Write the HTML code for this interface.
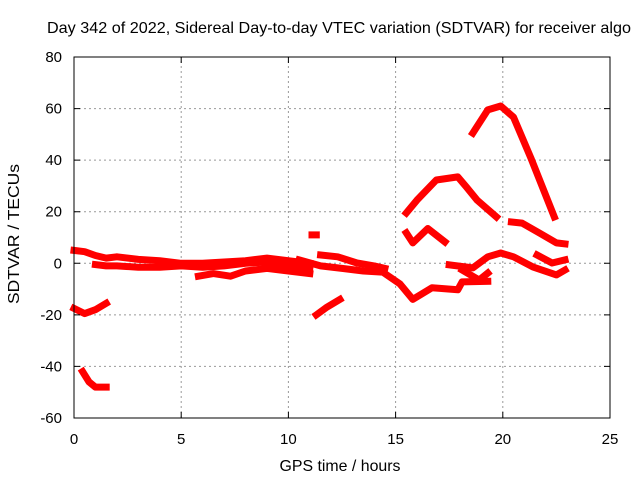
<!DOCTYPE html>
<html><head><meta charset="utf-8"><style>
html,body{margin:0;padding:0;background:#fff}
svg{display:block;font-family:"Liberation Sans",sans-serif}
</style></head><body>
<svg id="chart" width="640" height="480">
<text x="339" y="33" font-size="16" text-anchor="middle" textLength="584" lengthAdjust="spacingAndGlyphs">Day 342 of 2022, Sidereal Day-to-day VTEC variation (SDTVAR) for receiver algo</text>
<text x="340" y="471" font-size="16" text-anchor="middle" textLength="121" lengthAdjust="spacingAndGlyphs">GPS time / hours</text>
<text transform="translate(19,234) rotate(-90)" font-size="16" text-anchor="middle" textLength="140" lengthAdjust="spacingAndGlyphs">SDTVAR / TECUs</text>
<g id="grid"></g>
<g id="series"></g>
<rect x="74" y="57" width="536" height="361" fill="none" stroke="#000" stroke-width="1"/>
<g id="ticks"></g>
</svg>
<script>
const xTicks = [0,5,10,15,20,25];
const yTicks = [-60,-40,-20,0,20,40,60,80];
const segX = [
 [0,0.5,1,1.5,2,3,4,5,6,7,8,9,10,11],
 [1,1.5,2,3,4,5,6,7,8,9,10,11],
 [5.8,6.5,7.3,8,9,10,11],
 [10.5,11.5,12.5,13.5,14.4,15.2,15.8,16.7,17.9,18.1,19.3],
 [11.5,12.3,13.2,14,14.5],
 [0,0.5,1,1.5],
 [0.4,0.7,1,1.5],
 [11.3,11.8,12.4],
 [11.1,11.3],
 [18.6,19.3,19.9,20.5,21.3,22.4],
 [15.5,16,16.9,17.9,18.3,18.8,19.7],
 [15.5,15.8,16.5,17.3],
 [20.4,20.9,21.7,22.5,22.9],
 [21.6,22.3,22.9],
 [17.5,18.6,19.3,19.9,20.5,21.4,22.5,22.9],
 [18.1,18.9,19.3]
];
const segY = [
 [5,4.5,3,2,2.5,1.5,1,0,0,0.5,1,2,1,0],
 [-0.5,-1,-1,-1.5,-1.5,-1,-1.5,-1,0,0.5,-1,-2],
 [-5,-4,-5,-3,-2,-3,-4],
 [1.3,-1,-2,-3,-3.4,-8,-14,-9.5,-10.3,-7.2,-7],
 [3.2,2.5,0.1,-1,-2],
 [-17.5,-19.5,-18,-15.5],
 [-42,-46,-48,-48],
 [-20,-17,-14],
 [11,11],
 [50.5,59.5,61,56.7,41,18],
 [19.5,24.5,32.3,33.5,29.6,24.5,18],
 [11.8,7.9,13.5,8.3],
 [16,15.6,11.8,7.9,7.5],
 [3.2,0.1,1.3],
 [-0.6,-1.8,2.5,4,2.5,-1.4,-4.5,-2.6],
 [-2.6,-6.5,-3.8]
];
const NS='http://www.w3.org/2000/svg';
const X0=74,X1=610,Y0=418,Y1=57,xmin=0,xmax=25,ymin=-60,ymax=80;
const sx=v=>X0+(v-xmin)/(xmax-xmin)*(X1-X0);
const sy=v=>Y0-(v-ymin)/(ymax-ymin)*(Y0-Y1);
const grid=document.getElementById('grid'),ticks=document.getElementById('ticks'),series=document.getElementById('series'),svg=document.getElementById('chart');
function mk(t,a){const e=document.createElementNS(NS,t);for(const k in a)e.setAttribute(k,a[k]);return e;}
xTicks.forEach(v=>{
 const x=sx(v);
 if(v>xmin&&v<xmax){const g=mk('line',{x1:x,x2:x,y1:Y0,y2:Y1,stroke:'#999','stroke-dasharray':'2,3'});grid.appendChild(g);}
 const t=mk('path',{d:`M${x},${Y0}v-6M${x},${Y1}v6`,stroke:'#000'});ticks.appendChild(t);
 const l=mk('text',{x:x,y:Y0+26,'font-size':15,'text-anchor':'middle'});l.textContent=v;svg.appendChild(l);
});
yTicks.forEach(v=>{
 const y=sy(v);
 if(v>ymin&&v<ymax){const g=mk('line',{x1:X0,x2:X1,y1:y,y2:y,stroke:'#999','stroke-dasharray':'2,3'});grid.appendChild(g);}
 const t=mk('path',{d:`M${X0},${y}h6M${X1},${y}h-6`,stroke:'#000'});ticks.appendChild(t);
 const l=mk('text',{x:X0-12,y:y+5,'font-size':15,'text-anchor':'end'});l.textContent=v;svg.appendChild(l);
});
segX.forEach((xs,i)=>{
 const ys=segY[i];
 const pts=xs.map((x,j)=>sx(x).toFixed(1)+','+sy(ys[j]).toFixed(1)).join(' ');
 const p=mk('polyline',{points:pts,fill:'none',stroke:'#ff0000','stroke-width':7,'stroke-linejoin':'round','stroke-linecap':'square'});
 
 
 series.appendChild(p);
});
</script>
</body></html>
